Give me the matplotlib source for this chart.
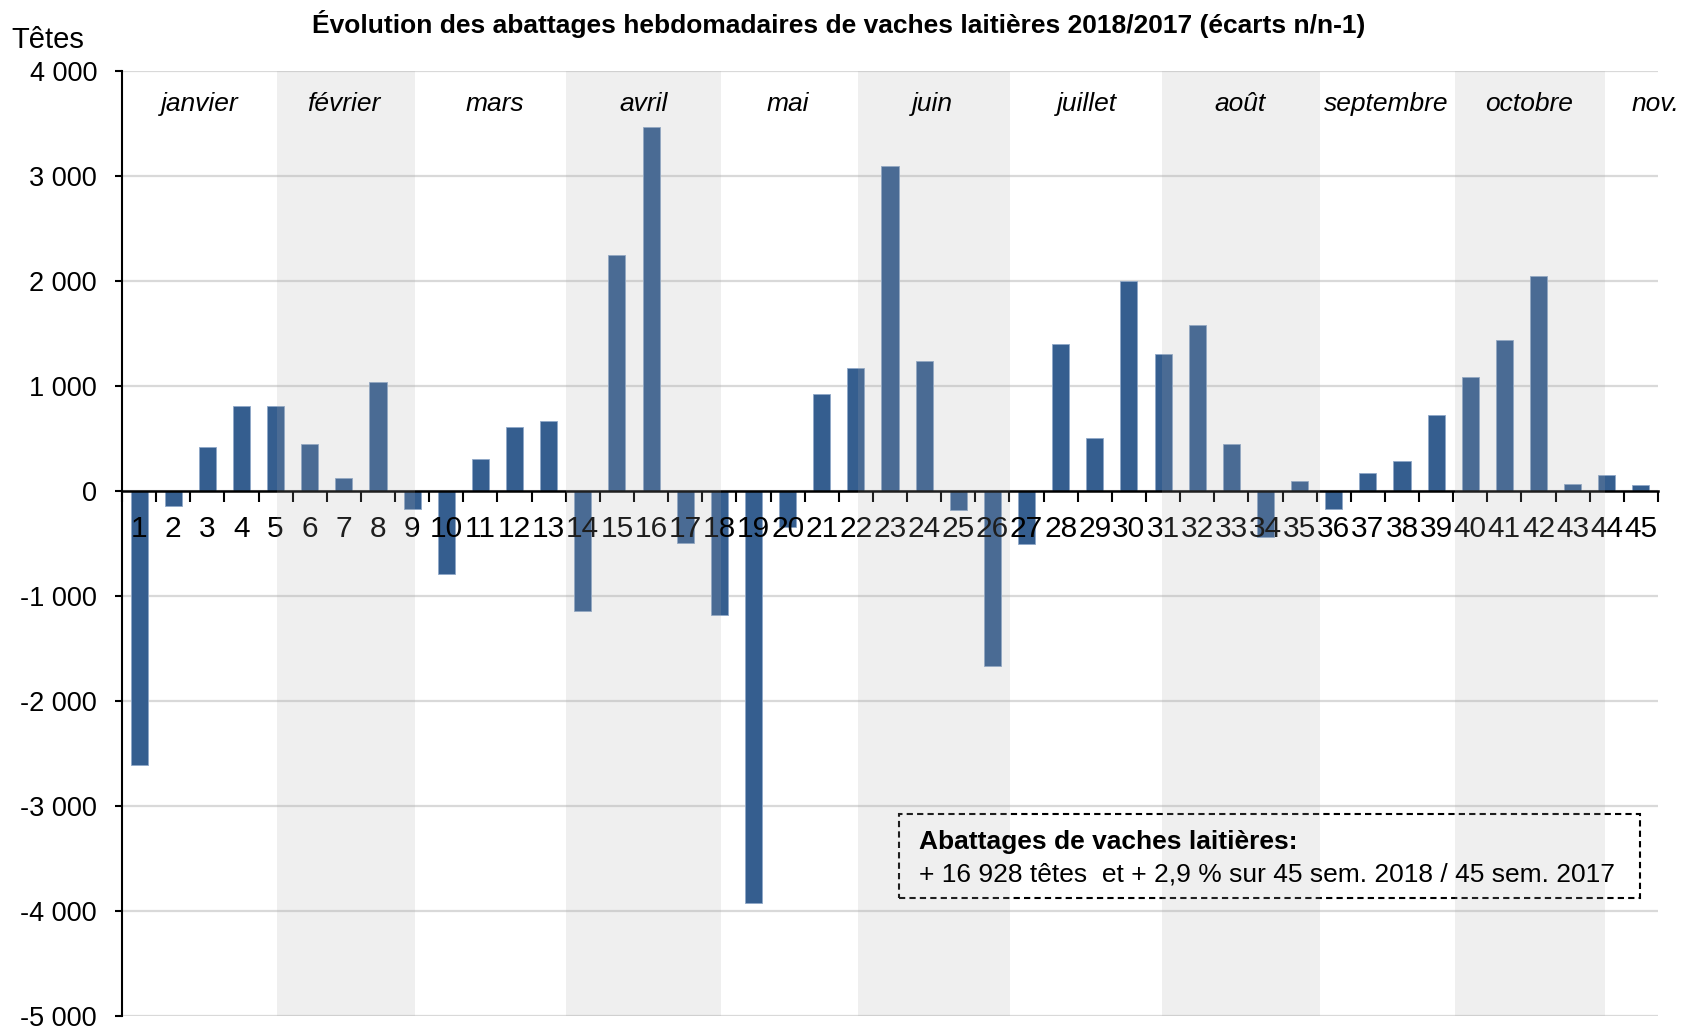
import matplotlib
matplotlib.use("Agg")
import matplotlib.pyplot as plt
from matplotlib.patches import Rectangle
from matplotlib.ticker import FuncFormatter

plt.rcParams['font.family'] = ['Liberation Sans', 'DejaVu Sans']

# semaines 2018 et écarts n/n-1 (têtes)
semaines = list(range(1, 46))
ecarts = [-2615, -140, 420, 812, 812, 449, 124, 1038, -169, -796,
          303, 608, 669, -1147, 2250, 3465, -496, -1178, -3930, -340,
          923, 1168, 3095, 1240, -181, -1664, -509, 1395, 506, 1996,
          1302, 1581, 449, -440, 98, -169, 172, 287, 726, 1085,
          1437, 2047, 70, 150, 57]

# libellés des mois et leur position (en semaines)
mois = ['janvier', 'février', 'mars', 'avril', 'mai', 'juin', 'juillet',
        'août', 'septembre', 'octobre', 'nov.']
mois_pos = [2.78, 7.0, 11.41, 15.79, 20.0, 24.25, 28.76, 33.26, 37.54, 41.73, 45.44]
# bandes grisées (mois pairs) : début / fin en semaines
bandes = [(5.03, 9.08), (13.51, 18.04), (22.07, 26.52), (30.98, 35.6), (39.54, 43.95)]

yticks = list(range(-5000, 4001, 1000))

fig = plt.figure(figsize=(16.97, 10.28), dpi=100)
ax = fig.add_axes([0.0719, 0.0119, 0.9051, 0.919])

ax.bar(semaines, ecarts, width=0.5, color='#355E8F', edgecolor='#8FA8C8',
       linewidth=0.6, zorder=2)

for x0, x1 in bandes:
    ax.axvspan(x0, x1, ymin=0, ymax=1, color='#ABABAB', alpha=0.18,
               linewidth=0, zorder=5)

for m, p in zip(mois, mois_pos):
    ax.text(p, 3690, m, ha='center', va='center', fontsize=19,
            style='italic', zorder=6)

ax.set_xlim(0.5, 45.5)
ax.set_ylim(-5000, 4000)
ax.set_yticks(yticks)
ax.yaxis.set_major_formatter(FuncFormatter(lambda v, _: f"{int(v):,}".replace(",", " ")))
ax.grid(axis='y', color='#D9D9D9', linewidth=1.6)
ax.set_axisbelow(True)
# libellés des semaines au-dessus des barres (mais sous les bandes)
ax.xaxis.set_zorder(3)

ax.set_xticks(semaines)
ax.set_xticklabels([str(s) for s in semaines])
ax.set_xticks([s + 0.5 for s in range(0, 46)], minor=True)
ax.tick_params(axis='x', which='major', length=0, pad=17, labelsize=21.5)
ax.tick_params(axis='x', which='minor', length=8, width=1.5, direction='out')
ax.tick_params(axis='y', length=5, width=1.5, labelsize=19.5, pad=13)

ax.spines['bottom'].set_position(('data', 0))
ax.spines['bottom'].set_linewidth(1.8)
ax.spines['bottom'].set_zorder(3)
ax.spines['left'].set_linewidth(1.5)
ax.spines['top'].set_visible(False)
ax.spines['right'].set_visible(False)

# encadré
ax.add_patch(Rectangle((0.506, 0.1246), 0.482, 0.0889, transform=ax.transAxes,
                       fill=False, edgecolor='black', linestyle=(0, (3, 2)),
                       linewidth=1.5, zorder=4))
ax.text(0.519, 0.184, 'Abattages de vaches laitières:', transform=ax.transAxes,
        fontsize=19, fontweight='bold', va='center', ha='left', zorder=6)
ax.text(0.519, 0.1495, '+ 16 928 têtes  et + 2,9 % sur 45 sem. 2018 / 45 sem. 2017',
        transform=ax.transAxes, fontsize=19, va='center', ha='left', zorder=6)

fig.text(0.494, 0.977, 'Évolution des abattages hebdomadaires de vaches laitières 2018/2017 (écarts n/n-1)',
         ha='center', va='center', fontsize=19, fontweight='bold')
fig.text(0.0065, 0.961, 'Têtes', ha='left', va='center', fontsize=21)

fig.savefig('out.png', dpi=100)
